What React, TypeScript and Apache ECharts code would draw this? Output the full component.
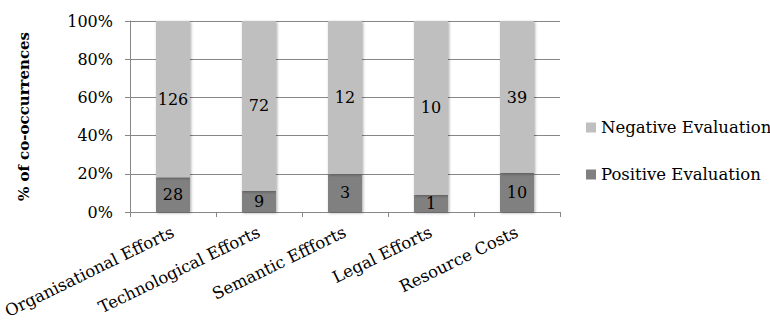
import React, { useEffect, useRef } from "react";
import * as echarts from "echarts";

const categories = [
  "Organisational Efforts",
  "Technological Efforts",
  "Semantic Effforts",
  "Legal Efforts",
  "Resource Costs",
];
const positiveCounts = [28, 9, 3, 1, 10];
const negativeCounts = [126, 72, 12, 10, 39];
const yTicks = [0, 20, 40, 60, 80, 100];

const FONT = "'DejaVu Serif', 'Liberation Serif', serif";
const AXIS_GRAY = "#868686";

// Each column is normalised to 100% of its co-occurrences.
const totals = categories.map((_, i) => positiveCounts[i] + negativeCounts[i]);
const positiveShare = positiveCounts.map((v, i) => (v / totals[i]) * 100);
const negativeShare = negativeCounts.map((v, i) => (v / totals[i]) * 100);

export default function App() {
  const ref = useRef<HTMLDivElement>(null);

  useEffect(() => {
    if (!ref.current) return;
    const chart = echarts.init(ref.current, undefined, { renderer: "svg" });
    const barShadow = {
      shadowColor: "rgba(0,0,0,0.35)",
      shadowBlur: 3,
      shadowOffsetX: 1,
      shadowOffsetY: 1,
    };
    const barLabel = (counts: number[]) => ({
      show: true,
      position: "inside",
      fontFamily: FONT,
      fontSize: 16,
      color: "#000",
      formatter: (p: any) => String(counts[p.dataIndex]),
    });
    chart.setOption({
      animation: false,
      textStyle: { fontFamily: FONT },
      grid: { left: 128, top: 21, width: 432, height: 191, containLabel: false },
      legend: {
        orient: "vertical",
        left: 581,
        top: 114,
        itemWidth: 10,
        itemHeight: 10,
        itemGap: 30,
        icon: "rect",
        textStyle: { fontFamily: FONT, fontSize: 16.5, color: "#000" },
        data: ["Negative Evaluation", "Positive Evaluation"],
      },
      xAxis: {
        type: "category",
        data: categories,
        axisLine: { lineStyle: { color: AXIS_GRAY, width: 1 } },
        axisTick: { show: true, length: 5, lineStyle: { color: AXIS_GRAY } },
        axisLabel: {
          rotate: 26,
          margin: 19,
          interval: 0,
          fontFamily: FONT,
          fontSize: 16.5,
          color: "#000",
        },
      },
      yAxis: {
        type: "value",
        min: 0,
        max: 100,
        interval: 20,
        axisLine: { show: true, lineStyle: { color: AXIS_GRAY, width: 1 } },
        axisTick: { show: true, length: 5, lineStyle: { color: AXIS_GRAY } },
        splitLine: { lineStyle: { color: AXIS_GRAY, width: 1 } },
        axisLabel: {
          margin: 17,
          fontFamily: FONT,
          fontSize: 16,
          color: "#000",
          formatter: (v: number) => (yTicks.includes(v) ? `${v}%` : ""),
        },
        name: "% of co-occurrences",
        nameLocation: "middle",
        nameGap: 98,
        nameRotate: 90,
        nameTextStyle: {
          fontFamily: FONT,
          fontSize: 15,
          fontWeight: "bold",
          color: "#000",
        },
      },
      series: [
        {
          name: "Positive Evaluation",
          type: "bar",
          stack: "share",
          barWidth: 34,
          data: positiveShare,
          itemStyle: { color: "#808080", ...barShadow },
          label: barLabel(positiveCounts),
        },
        {
          name: "Negative Evaluation",
          type: "bar",
          stack: "share",
          barWidth: 34,
          data: negativeShare,
          itemStyle: { color: "#BFBFBF", ...barShadow },
          label: barLabel(negativeCounts),
        },
      ],
    });
    return () => chart.dispose();
  }, []);

  return <div ref={ref} style={{ width: 770, height: 325, position: "absolute", left: 0, top: 0 }} />;
}
